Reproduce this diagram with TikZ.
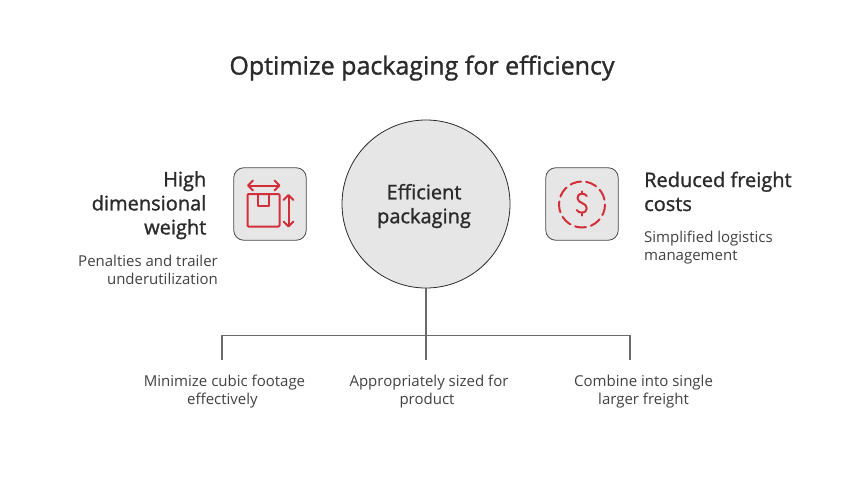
\documentclass[tikz,border=0pt]{standalone}
\usepackage{fontspec}
\setmainfont{Open Sans}
\newfontfamily\medfont[FakeBold=1.2]{Open Sans}
\usetikzlibrary{arrows.meta}
\definecolor{ink}{HTML}{2B2B2B}
\definecolor{body}{HTML}{424242}
\definecolor{fillg}{HTML}{E6E6E6}
\definecolor{redi}{HTML}{D32F3A}
\definecolor{linec}{HTML}{6A6A6A}
\tikzset{
  x=1pt,y=-1pt,
  titletext/.style={font=\medfont\fontsize{25}{30}\selectfont,text=ink,inner sep=0pt},
  headr/.style={font=\medfont\fontsize{20}{24}\selectfont,text=ink,inner sep=0pt,align=left,anchor=north west},
  headl/.style={font=\medfont\fontsize{20}{24}\selectfont,text=ink,inner sep=0pt,align=right,anchor=north east},
  bodyr/.style={font=\fontsize{15}{18}\selectfont,text=body,inner sep=0pt,align=left,anchor=north west},
  bodyl/.style={font=\fontsize{15}{18}\selectfont,text=body,inner sep=0pt,align=right,anchor=north east},
  bodyc/.style={font=\fontsize{15}{18}\selectfont,text=body,inner sep=0pt,align=center,anchor=north},
  centre/.style={circle,draw=ink,line width=0.8pt,fill=fillg,minimum size=168pt,inner sep=0pt},
  hubtext/.style={font=\medfont\fontsize{20}{24}\selectfont,text=ink,align=center,inner sep=0pt},
  iconbox/.style={draw=ink!85,line width=0.8pt,fill=fillg,rounded corners=10pt,minimum size=72.5pt,inner sep=0pt},
  iconline/.style={draw=redi,line width=2pt,line join=round,line cap=round},
  conn/.style={draw=linec,line width=1.2pt},
  dbl/.style={iconline,{Straight Barb[length=5pt,width=10pt,line width=2pt,round]}-{Straight Barb[length=5pt,width=10pt,line width=2pt,round]}}
}
\begin{document}
\begin{tikzpicture}
\useasboundingbox (0,0) rectangle (858,492);
\fill[white] (0,0) rectangle (858,492);
\node[titletext] (title) at (422,68) {Optimize packaging for efficiency};
\node[centre] (hub) at (426,204) {};
\node[hubtext] (hubt) at (424,206) {Efficient\\packaging};
\node[iconbox] (boxl) at (270,204) {};
\node[iconbox] (boxr) at (582,204) {};
% left icon
\draw[iconline,rounded corners=1pt] (247.5,194) rectangle (279.5,226.5);
\draw[iconline] (258,194) -- (258,206) -- (268.5,206) -- (268.5,194);
\coordinate (ha) at (247,185.5); \coordinate (hb) at (280.5,185.5);
\coordinate (va) at (288.5,194); \coordinate (vb) at (288.5,227.5);
\draw[dbl] (ha) -- (hb);
\draw[dbl] (va) -- (vb);
% right icon
\draw[iconline,dash pattern=on 11pt off 5.05pt] (582,204.5) circle[radius=23];
\draw[iconline] (586.8,196) .. controls (585.5,194.3) and (584,193.8) .. (581.8,193.8)
   .. controls (578.5,193.8) and (577.5,196.5) .. (577.5,198.2)
   .. controls (577.5,203.5) and (586.8,202.5) .. (586.8,208.3)
   .. controls (586.8,210.6) and (585,212.6) .. (581.8,212.6)
   .. controls (579.3,212.6) and (578,211.8) .. (576.8,210);
\draw[iconline] (582,191.3) -- (582,193.8);
\draw[iconline] (582,212.6) -- (582,215.6);
% texts
\node[headl] (hl) at (206.5,171) {High\\dimensional\\weight};
\node[bodyl] (bl) at (218,254.5) {Penalties and trailer\\underutilization};
\node[headr] (hr) at (644,171.5) {Reduced freight\\costs};
\node[bodyr] (br) at (644,231) {Simplified logistics\\management};
\node[bodyc] (c1) at (224.5,375) {Minimize cubic footage\\effectively\hspace*{4pt}};
\node[bodyc] (c2) at (429,375) {Appropriately sized for\\product\hspace*{4pt}};
\node[bodyc] (c3) at (643.5,375) {Combine into single\\larger freight};
% connectors
\coordinate (j) at (426,335.6);
\coordinate (d1) at (222,360); \coordinate (d2) at (426,360); \coordinate (d3) at (630,360);
\draw[conn] (hub.south -| d2) -- (d2);
\draw[conn] (d1) |- (j) -| (d3);
\end{tikzpicture}
\end{document}
